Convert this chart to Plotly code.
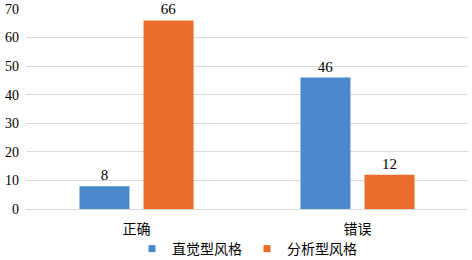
import plotly.graph_objects as go

categories = ["正确", "错误"]
series_names = ["直觉型风格", "分析型风格"]
intuitive = [8, 46]
analytic = [66, 12]
y_ticks = [0, 10, 20, 30, 40, 50, 60, 70]
colors = ["#4A89CB", "#E96C2A"]

font_stack = "Liberation Serif, Times New Roman, Noto Sans CJK SC"
cjk = "Noto Sans CJK SC"

fig = go.Figure()
for name, vals, col in zip(series_names, [intuitive, analytic], colors):
    fig.add_trace(go.Bar(
        x=categories, y=vals, name=name, showlegend=False,
        marker=dict(color=col, line=dict(width=0)),
        text=[str(v) for v in vals], textposition="outside",
        textfont=dict(family=font_stack, size=15, color="#000000"),
        cliponaxis=False,
    ))
# legend entries with small square markers
for name, col in zip(series_names, colors):
    fig.add_trace(go.Scatter(
        x=[None], y=[None], mode="markers", name=name,
        marker=dict(symbol="square", size=7, color=col),
    ))

fig.update_layout(
    width=472, height=260, autosize=False,
    margin=dict(l=26, r=4, t=9, b=51, autoexpand=False),
    paper_bgcolor="white", plot_bgcolor="white",
    barmode="group", bargap=0.42, bargroupgap=0.22,
    font=dict(family=font_stack, size=14, color="#000000"),
    showlegend=True,
    legend=dict(orientation="h", x=0.5, xanchor="center", y=-0.12, yanchor="top",
                bgcolor="rgba(0,0,0,0)",
                font=dict(size=14, family=cjk),
                itemwidth=30, tracegroupgap=0),
    xaxis=dict(showgrid=False, showline=False, ticks="", automargin=False,
               tickfont=dict(size=14, family=cjk), ticklabelstandoff=10),
    yaxis=dict(range=[0, 70], tickvals=y_ticks, showgrid=True, gridcolor="#D9D9D9",
               gridwidth=1, zeroline=True, zerolinecolor="#D9D9D9", zerolinewidth=1,
               showline=False, ticks="", tickfont=dict(size=14), ticklabelstandoff=6,
               automargin=False),
)

fig.write_html("out.html",
               config={"responsive": False, "displayModeBar": False},
               post_script="document.body.style.margin='0';document.body.style.overflow='hidden';")
